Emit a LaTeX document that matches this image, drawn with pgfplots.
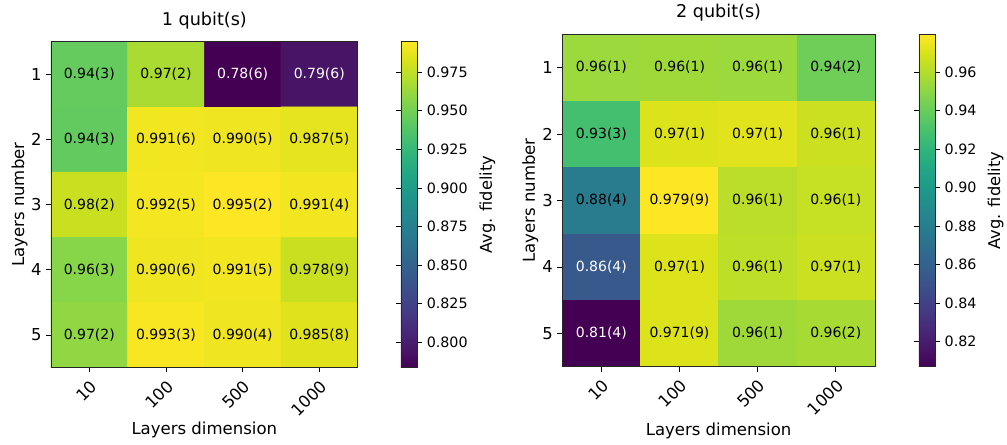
\documentclass[border=0pt]{standalone}
\usepackage{fontspec}
\setmainfont{DejaVu Sans}
\usepackage{pgfplots}
\pgfplotsset{compat=1.18}
\usepackage{pgfplotstable}
\pgfkeys{/pgf/number format/assume math mode=true}

\pgfplotstableread{
x y v
1 1 0.945
2 1 0.968
3 1 0.7835
4 1 0.794
1 2 0.944
2 2 0.991
3 2 0.990
4 2 0.987
1 3 0.978
2 3 0.992
3 3 0.9948
4 3 0.991
1 4 0.957
2 4 0.990
3 4 0.991
4 4 0.978
1 5 0.960
2 5 0.993
3 5 0.990
4 5 0.985
}\leftdata

\pgfplotstableread{
x y l
1 1 0.94(3)
2 1 0.97(2)
1 2 0.94(3)
2 2 0.991(6)
3 2 0.990(5)
4 2 0.987(5)
1 3 0.98(2)
2 3 0.992(5)
3 3 0.995(2)
4 3 0.991(4)
1 4 0.96(3)
2 4 0.990(6)
3 4 0.991(5)
4 4 0.978(9)
1 5 0.97(2)
2 5 0.993(3)
3 5 0.990(4)
4 5 0.985(8)
}\leftblack

\pgfplotstableread{
x y l
3 1 0.78(6)
4 1 0.79(6)
}\leftwhite

\pgfplotstableread{
x y v
1 1 0.954
2 1 0.955
3 1 0.954
4 1 0.942
1 2 0.928
2 2 0.971
3 2 0.972
4 2 0.966
1 3 0.879
2 3 0.9796
3 3 0.962
4 3 0.965
1 4 0.855
2 4 0.971
3 4 0.963
4 4 0.966
1 5 0.807
2 5 0.971
3 5 0.955
4 5 0.957
}\rightdata

\pgfplotstableread{
x y l
1 1 0.96(1)
2 1 0.96(1)
3 1 0.96(1)
4 1 0.94(2)
1 2 0.93(3)
2 2 0.97(1)
3 2 0.97(1)
4 2 0.96(1)
1 3 0.88(4)
2 3 0.979(9)
3 3 0.96(1)
4 3 0.96(1)
2 4 0.97(1)
3 4 0.96(1)
4 4 0.97(1)
2 5 0.971(9)
3 5 0.96(1)
4 5 0.96(2)
}\rightblack

\pgfplotstableread{
x y l
1 4 0.86(4)
1 5 0.81(4)
}\rightwhite

\pgfplotsset{
  hm/.style={
    anchor=south west, scale only axis,
    xmin=0.5, xmax=4.5, ymin=0.5, ymax=5.5, y dir=reverse,
    xtick={1,2,3,4}, xticklabels={10,100,500,1000}, ytick={1,2,3,4,5},
    tick pos=left, tick align=outside, major tick length=3.6pt,
    axis line style={black!85, line width=0.6pt},
    every tick/.style={black, line width=0.6pt},
    tick label style={font=\fontsize{12.3}{14}\selectfont},
    xticklabel style={rotate=45, anchor=north east},
    axis on top,
    colormap/viridis,
    xlabel={Layers dimension}, ylabel={Layers number},
    every axis y label/.style={rotate=90, anchor=base, font=\fontsize{12.4}{14}\selectfont},
    every axis x label/.style={anchor=base, font=\fontsize{12.4}{14}\selectfont},
  },
  cellb/.style={only marks, mark=none, nodes near coords, point meta=explicit symbolic,
    every node near coord/.append style={anchor=center, font=\fontsize{10.5}{12}\selectfont, text=black}},
  cellw/.style={only marks, mark=none, nodes near coords, point meta=explicit symbolic,
    every node near coord/.append style={anchor=center, font=\fontsize{10.5}{12}\selectfont, text=white}},
}

\begin{document}
\begin{tikzpicture}
\path[use as bounding box] (0,0) rectangle (755.25pt,333.75pt);
\begin{axis}[hm,
  at={(38.25pt,57.98pt)}, width=230pt, height=244.5pt,
  title={1 qubit(s)},
  every axis title/.style={at={(0.5,1.0512)}, anchor=base, font=\fontsize{13.2}{15}\selectfont},
  xlabel style={at={(0.5,-0.2064)}},
  ylabel style={at={(-0.088,0.5)}},
  point meta min=0.7835, point meta max=0.9948,
  colorbar,
  colorbar style={
    at={(parent axis.north east)}, anchor=north west, xshift=23.96pt,
    width=12.2pt, height=244.5pt, scale only axis,
    ytick={0.800,0.825,0.850,0.875,0.900,0.925,0.950,0.975},
    yticklabel style={font=\fontsize{10.7}{12}\selectfont, /pgf/number format/.cd, fixed, fixed zerofill, precision=3},
    major tick length=3.6pt, tick align=outside,
    axis line style={black!85, line width=0.6pt},
    every tick/.style={black, line width=0.6pt},
    ylabel={Avg. fidelity},
    every axis y label/.style={at={(5.58,0.5)}, rotate=90, anchor=base, font=\fontsize{12.2}{14}\selectfont},
  },
]
\addplot[matrix plot*, point meta=explicit, mesh/cols=4] table[x=x, y=y, meta=v] {\leftdata};
\addplot[cellb] table[x=x, y=y, meta=l] {\leftblack};
\addplot[cellw] table[x=x, y=y, meta=l] {\leftwhite};
\end{axis}

\begin{axis}[hm,
  at={(421.7pt,58.7pt)}, width=234.5pt, height=249.3pt,
  title={2 qubit(s)},
  every axis title/.style={at={(0.5,1.0511)}, anchor=base, font=\fontsize{13.2}{15}\selectfont},
  xlabel style={at={(0.5,-0.2055)}},
  ylabel style={at={(-0.0873,0.5)}},
  point meta min=0.807, point meta max=0.9796,
  colorbar,
  colorbar style={
    at={(parent axis.north east)}, anchor=north west, xshift=24.46pt,
    width=12.2pt, height=249.3pt, scale only axis,
    ytick={0.82,0.84,0.86,0.88,0.90,0.92,0.94,0.96},
    yticklabel style={font=\fontsize{10.7}{12}\selectfont, /pgf/number format/.cd, fixed, fixed zerofill, precision=2},
    major tick length=3.6pt, tick align=outside,
    axis line style={black!85, line width=0.6pt},
    every tick/.style={black, line width=0.6pt},
    ylabel={Avg. fidelity},
    every axis y label/.style={at={(4.99,0.5)}, rotate=90, anchor=base, font=\fontsize{12.2}{14}\selectfont},
  },
]
\addplot[matrix plot*, point meta=explicit, mesh/cols=4] table[x=x, y=y, meta=v] {\rightdata};
\addplot[cellb] table[x=x, y=y, meta=l] {\rightblack};
\addplot[cellw] table[x=x, y=y, meta=l] {\rightwhite};
\end{axis}
\end{tikzpicture}
\end{document}
